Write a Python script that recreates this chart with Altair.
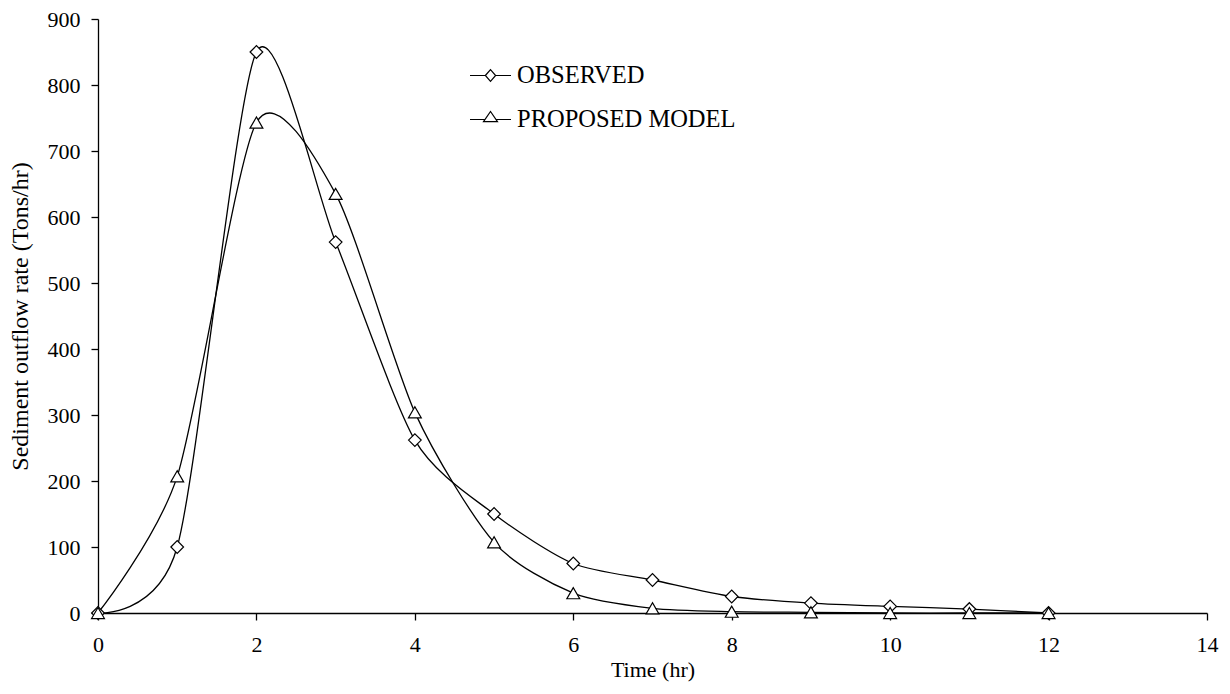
import altair as alt
import pandas as pd

time = list(range(13))
observed = [0, 100, 850, 562, 262, 150, 75, 50, 25, 15, 10, 6, 0]
model = [0, 207, 743, 635, 304, 107, 30, 7, 2, 1, 0, 0, 0]
series_names = ["OBSERVED", "PROPOSED MODEL"]
x_ticks = list(range(0, 15, 2))
y_ticks = list(range(0, 901, 100))

rows = []
for t, o, m in zip(time, observed, model):
    rows.append({"Time": t, "Rate": o, "Series": series_names[0]})
    rows.append({"Time": t, "Rate": m, "Series": series_names[1]})
df = pd.DataFrame(rows)

x = alt.X("Time:Q", scale=alt.Scale(domain=[0, 14], nice=False),
          axis=alt.Axis(values=x_ticks, title="Time (hr)", labelPadding=14, titlePadding=4,
                        titleFontSize=22, labelFlush=False))
y = alt.Y("Rate:Q", scale=alt.Scale(domain=[0, 900], nice=False),
          axis=alt.Axis(values=y_ticks, title="Sediment outflow rate (Tons/hr)",
                        labelPadding=11, titlePadding=15, titleFontSize=24, labelFlush=False))

lines = alt.Chart(df).mark_line(interpolate="cardinal", tension=0.25, color="black", strokeWidth=1.3).encode(
    x=x, y=y, detail="Series:N")

points = alt.Chart(df).mark_point(filled=True, fill="white", stroke="black", strokeWidth=1.2, opacity=1).encode(
    x=x, y=y,
    shape=alt.Shape("Series:N", scale=alt.Scale(domain=series_names, range=["diamond", "triangle-up"]), legend=None),
    size=alt.Size("Series:N", scale=alt.Scale(domain=series_names, range=[160, 165]), legend=None),
)

leg_diamond = "M-1,0L-0.25,0M0.25,0L1,0M-0.25,0L0,-0.29L0.25,0L0,0.29Z"
leg_triangle = "M-1,0L-0.27,0M0.27,0L1,0M-0.34,0.1L0,-0.39L0.34,0.1Z"

legend_layer = alt.Chart(df).transform_filter(alt.datum.Time < 0).mark_point(
    filled=False, stroke="black", strokeWidth=1.2, opacity=1).encode(
    x=x, y=y,
    shape=alt.Shape("Series:N", scale=alt.Scale(domain=series_names, range=[leg_diamond, leg_triangle]),
                    legend=alt.Legend(title=None, orient="none", legendX=371, legendY=35,
                                      symbolSize=1681, symbolStrokeColor="black",
                                      symbolStrokeWidth=1.2, symbolOpacity=1,
                                      labelFont="Liberation Serif", labelFontSize=24.5, labelColor="black",
                                      labelOffset=5, rowPadding=11, labelLimit=400)),
)

chart = alt.layer(lines, points, legend_layer).resolve_scale(shape="independent").properties(
    width=1109, height=594,
    autosize=alt.AutoSizeParams(type="none"),
    padding={"left": 90, "top": 11, "right": 15, "bottom": 72},
    background="white",
).configure_view(stroke=None).configure_axis(
    grid=False, domainColor="black", tickColor="black", tickSize=7,
    labelFont="Liberation Serif", labelFontSize=22, labelColor="black",
    titleFont="Liberation Serif", titleFontWeight="normal", titleColor="black",
    domainWidth=1.3, tickWidth=1.3,
)

chart.save("out.html", embed_options={"renderer": "svg", "actions": False})
